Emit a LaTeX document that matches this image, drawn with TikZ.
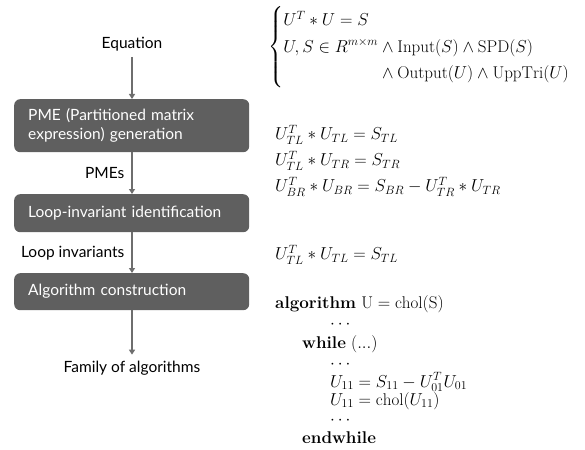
\documentclass[tikz,border=0pt]{standalone}
\usepackage{amsmath,amssymb}
\usepackage{fontspec}
\newfontfamily\stepfont{Lato}
\usetikzlibrary{positioning,arrows.meta}

\definecolor{boxgray}{HTML}{5F5F5F}
\definecolor{arrgray}{HTML}{6E6E6E}

\tikzset{
  stage/.style={draw=none, fill=boxgray, rounded corners=6pt, text=white,
    text width=207pt, align=left, anchor=north west, inner xsep=14pt,
    font=\stepfont\fontsize{15.5}{19}\selectfont},
  plain/.style={font=\stepfont\fontsize{15.5}{19}\selectfont, inner sep=1pt},
  flow/.style={arrgray, line width=1.4pt, -{Triangle[length=5pt,width=6pt]}},
  formula/.style={anchor=west, inner sep=0pt, font=\fontsize{17}{21}\selectfont}
}

\begin{document}
\begin{tikzpicture}[x=1pt, y=-1pt]
	\useasboundingbox (0,0) rectangle (585,449);
	
	% ----------------------------
	% 1) Left column: the derivation steps
	% ----------------------------
	\node[plain] (eq) at (132,44) {Equation};
	
	\node[stage, minimum height=53pt] (pme) at (14,99) {PME (Partitioned matrix\\expression) generation};
	\node[stage, minimum height=38pt] (inv) at (14,194) {Loop-invariant identification};
	\node[stage, minimum height=37pt] (alg) at (14,273) {Algorithm construction};
	
	\node[plain] (fam) at (132,368) {Family of algorithms};
	
	% ----------------------------
	% 2) Arrows between the steps
	% ----------------------------
	\coordinate (e0) at (132,57);
	\draw[flow] (e0) -- (e0 |- pme.north);
	\draw[flow] (pme.south -| e0) -- (inv.north -| e0)
		node[midway, left=6pt, plain, text=black] (pmes) {PMEs};
	\draw[flow] (inv.south -| e0) -- (alg.north -| e0)
		node[midway, left=6pt, plain, text=black] (loopinv) {Loop invariants};
	\draw[flow, shorten >=5pt] (alg.south -| e0) -- (e0 |- fam.north);
	
	% ----------------------------
	% 3) Right column: what each step produces
	% ----------------------------
	\node[formula] (spec) at (268,47) {$\begin{cases}
		U^T * U = S\\[1pt]
		U,S \in R^{m\times m} \wedge \mathrm{Input}(S) \wedge \mathrm{SPD}(S)\\[1pt]
		\hphantom{U,S \in R^{m\times m}} \wedge \mathrm{Output}(U) \wedge \mathrm{UppTri}(U)
	\end{cases}$};
	
	\node[formula, align=left] (pmeq) at (275,161) {%
		$U_{TL}^T * U_{TL} = S_{TL}$\\[5pt]
		$U_{TL}^T * U_{TR} = S_{TR}$\\[5pt]
		$U_{BR}^T * U_{BR} = S_{BR} - U_{TR}^T * U_{TR}$};
	
	\node[formula] (inveq) at (275,255) {$U_{TL}^T * U_{TL} = S_{TL}$};
	
	\node[formula, align=left, anchor=north west, font=\fontsize{17}{20}\selectfont] (code) at (275,295) {%
		$\textbf{algorithm}\ \mathrm{U} = \mathrm{chol(S)}$\\
		\hspace*{55pt}$\cdots$\\
		\hspace*{27pt}$\textbf{while}\ (...)$\\
		\hspace*{55pt}$\cdots$\\[-1pt]
		\hspace*{55pt}$U_{11} = S_{11} - U_{01}^T U_{01}$\\[-2pt]
		\hspace*{55pt}$U_{11} = \mathrm{chol}(U_{11})$\\[-1pt]
		\hspace*{55pt}$\cdots$\\[-1pt]
		\hspace*{27pt}$\textbf{endwhile}$};
	
\end{tikzpicture}
\end{document}
